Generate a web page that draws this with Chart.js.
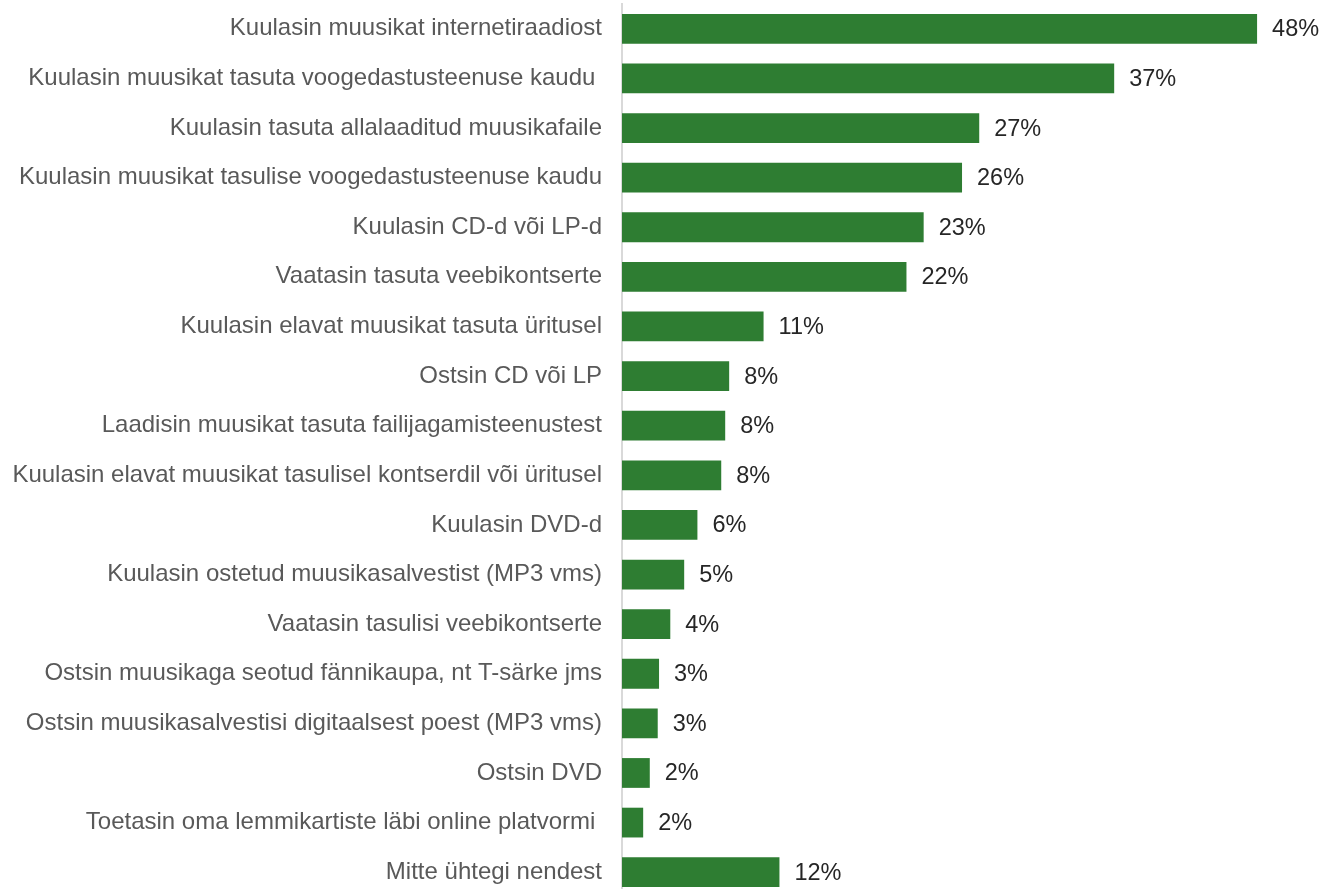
<!DOCTYPE html>
<html>
<head>
<meta charset="utf-8">
<script src="https://cdn.jsdelivr.net/npm/chart.js@4/dist/chart.umd.min.js"></script>
<style>
  html, body { margin: 0; padding: 0; overflow: hidden; background: #ffffff; }
  #wrap { position: relative; width: 1324px; height: 898px; }
</style>
</head>
<body>
<div id="wrap"><canvas id="c"></canvas></div>
<script>
const categories = [
  "Kuulasin muusikat internetiraadiost",
  "Kuulasin muusikat tasuta voogedastusteenuse kaudu ",
  "Kuulasin tasuta allalaaditud muusikafaile",
  "Kuulasin muusikat tasulise voogedastusteenuse kaudu",
  "Kuulasin CD-d või LP-d",
  "Vaatasin tasuta veebikontserte",
  "Kuulasin elavat muusikat tasuta üritusel",
  "Ostsin CD või LP",
  "Laadisin muusikat tasuta failijagamisteenustest",
  "Kuulasin elavat muusikat tasulisel kontserdil või üritusel",
  "Kuulasin DVD-d",
  "Kuulasin ostetud muusikasalvestist (MP3 vms)",
  "Vaatasin tasulisi veebikontserte",
  "Ostsin muusikaga seotud fännikaupa, nt T-särke jms",
  "Ostsin muusikasalvestisi digitaalsest poest (MP3 vms)",
  "Ostsin DVD",
  "Toetasin oma lemmikartiste läbi online platvormi ",
  "Mitte ühtegi nendest"
];
const values = [48.0, 37.2, 27.0, 25.7, 22.8, 21.5, 10.7, 8.1, 7.8, 7.5, 5.7, 4.7, 3.65, 2.8, 2.7, 2.1, 1.6, 11.9];

const valueLabels = {
  id: 'valueLabels',
  afterDatasetsDraw(chart) {
    const ctx = chart.ctx;
    const meta = chart.getDatasetMeta(0);
    ctx.save();
    ctx.font = '23.5px "Liberation Sans", Arial, sans-serif';
    ctx.fillStyle = '#262626';
    ctx.textAlign = 'left';
    ctx.textBaseline = 'middle';
    meta.data.forEach((bar, i) => {
      ctx.fillText(Math.round(values[i]) + '%', bar.x + 15, bar.y + 1);
    });
    ctx.restore();
  }
};

new Chart(document.getElementById('c'), {
  type: 'bar',
  data: {
    labels: categories,
    datasets: [{
      data: values,
      backgroundColor: '#2E7D32',
      borderWidth: 0,
      barPercentage: 0.6,
      categoryPercentage: 1.0
    }]
  },
  options: {
    indexAxis: 'y',
    responsive: true,
    maintainAspectRatio: false,
    animation: false,
    layout: { padding: { top: 4, bottom: 1, left: 0, right: 14 } },
    plugins: { legend: { display: false }, tooltip: { enabled: false } },
    scales: {
      x: { display: false, min: 0, max: 52 },
      y: {
        afterFit(scale) {
          scale.width = 622;
          scale.paddingTop = 0;
          scale.paddingBottom = 0;
        },
        grid: { display: false, drawTicks: false },
        border: { display: true, color: '#d9d9d9', width: 2 },
        ticks: {
          autoSkip: false,
          padding: 20,
          color: '#595959',
          font: { family: '"Liberation Sans", Arial, sans-serif', size: 24 }
        }
      }
    }
  },
  plugins: [valueLabels]
});
</script>
</body>
</html>
